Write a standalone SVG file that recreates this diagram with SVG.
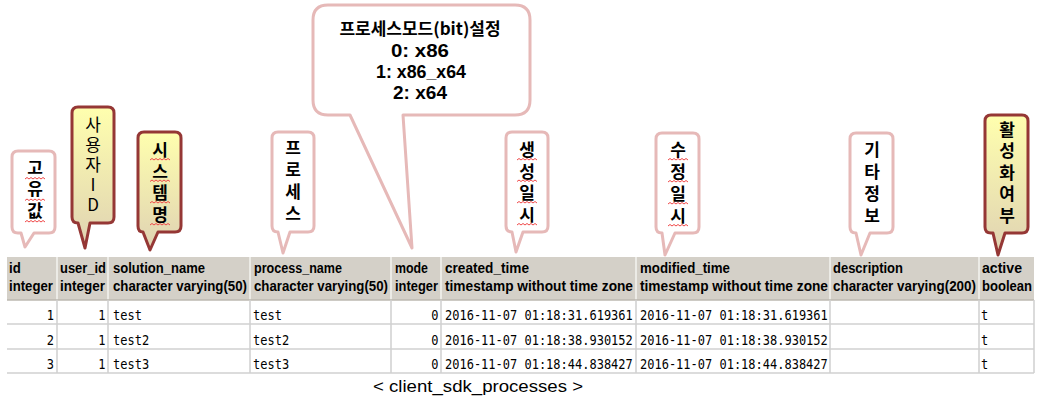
<svg xmlns="http://www.w3.org/2000/svg" xmlns:xlink="http://www.w3.org/1999/xlink" width="1039" height="400" viewBox="0 0 1039 400">
<defs>
<linearGradient id="gold" x1="0" y1="0" x2="0" y2="1">
<stop offset="0" stop-color="#ffffae"/>
<stop offset="1" stop-color="#dfd2b3"/>
</linearGradient>
<path id="sq" d="M-10,0 l2,-1.5 l2,1.5 l2,-1.5 l2,1.5 l2,-1.5 l2,1.5 l2,-1.5 l2,1.5 l2,-1.5 l2,1.5" fill="none" stroke="#f04848" stroke-width="1"/>
<style>
.pink{fill:#ffffff;stroke:#e6b9b8;stroke-width:3;stroke-linejoin:round}
.dark{fill:url(#gold);stroke:#953735;stroke-width:3;stroke-linejoin:round}
.kt{font-family:"Noto Sans CJK KR","Noto Sans",sans-serif;font-size:17px;font-weight:bold;fill:#000;writing-mode:vertical-rl;text-orientation:upright}
.kl{font-weight:normal}
.big{font-family:"Noto Sans CJK KR","Noto Sans",sans-serif;font-size:17px;font-weight:bold;text-anchor:middle;fill:#000}
.bigl{font-family:"Liberation Sans",Arial,sans-serif;font-size:18px;font-weight:bold;text-anchor:middle;fill:#000}
.hd{font-family:"Liberation Sans",Arial,sans-serif;font-size:13.2px;font-weight:bold;fill:#000}
.dt{font-family:"DejaVu Sans Mono","Liberation Mono",monospace;font-size:12px;fill:#000}
.num{text-anchor:end}
.cap{font-family:"Liberation Sans",Arial,sans-serif;font-size:16px;fill:#000}
.hline{stroke:#d0d0d0;stroke-width:1.5}
.vline{stroke:#cfcfcf;stroke-width:1.5}
.hsep{stroke:#f4f4f0;stroke-width:1.5}
</style>
</defs>
<rect width="1039" height="400" fill="#ffffff"/>

<g id="table">
<rect x="7" y="257" width="1027" height="43" fill="#d4d0c8"/>
<g class="hsep">
<line x1="57" y1="257" x2="57" y2="300"/>
<line x1="108" y1="257" x2="108" y2="300"/>
<line x1="250" y1="257" x2="250" y2="300"/>
<line x1="391" y1="257" x2="391" y2="300"/>
<line x1="441" y1="257" x2="441" y2="300"/>
<line x1="636" y1="257" x2="636" y2="300"/>
<line x1="830" y1="257" x2="830" y2="300"/>
<line x1="979" y1="257" x2="979" y2="300"/>
</g>
<line x1="7" y1="300" x2="1034" y2="300" stroke="#bdb9b1" stroke-width="1.5"/>
<g class="vline">
<line x1="57" y1="300" x2="57" y2="373"/>
<line x1="108" y1="300" x2="108" y2="373"/>
<line x1="250" y1="300" x2="250" y2="373"/>
<line x1="391" y1="300" x2="391" y2="373"/>
<line x1="441" y1="300" x2="441" y2="373"/>
<line x1="636" y1="300" x2="636" y2="373"/>
<line x1="830" y1="300" x2="830" y2="373"/>
<line x1="979" y1="300" x2="979" y2="373"/>
<line x1="1034" y1="300" x2="1034" y2="373"/>
</g>
<g class="hline">
<line x1="7" y1="324" x2="1034" y2="324"/>
<line x1="7" y1="349" x2="1034" y2="349"/>
<line x1="7" y1="373" x2="1034" y2="373"/>
</g>
<g class="hd" transform="translate(0,273) scale(1,1.15)">
<text x="9" y="0">id</text>
<text x="60" y="0" textLength="46" lengthAdjust="spacingAndGlyphs">user_id</text>
<text x="113" y="0" textLength="92" lengthAdjust="spacingAndGlyphs">solution_name</text>
<text x="254" y="0" textLength="88" lengthAdjust="spacingAndGlyphs">process_name</text>
<text x="395" y="0" textLength="33" lengthAdjust="spacingAndGlyphs">mode</text>
<text x="445" y="0" textLength="84" lengthAdjust="spacingAndGlyphs">created_time</text>
<text x="640" y="0" textLength="90" lengthAdjust="spacingAndGlyphs">modified_time</text>
<text x="833" y="0" textLength="70" lengthAdjust="spacingAndGlyphs">description</text>
<text x="982" y="0" textLength="40" lengthAdjust="spacingAndGlyphs">active</text>
</g>
<g class="hd" transform="translate(0,291) scale(1,1.15)">
<text x="9" y="0" textLength="44" lengthAdjust="spacingAndGlyphs">integer</text>
<text x="60" y="0" textLength="45" lengthAdjust="spacingAndGlyphs">integer</text>
<text x="113" y="0" textLength="134" lengthAdjust="spacingAndGlyphs">character varying(50)</text>
<text x="254" y="0" textLength="134" lengthAdjust="spacingAndGlyphs">character varying(50)</text>
<text x="395" y="0" textLength="43" lengthAdjust="spacingAndGlyphs">integer</text>
<text x="445" y="0" textLength="188" lengthAdjust="spacingAndGlyphs">timestamp without time zone</text>
<text x="640" y="0" textLength="188" lengthAdjust="spacingAndGlyphs">timestamp without time zone</text>
<text x="833" y="0" textLength="143" lengthAdjust="spacingAndGlyphs">character varying(200)</text>
<text x="982" y="0" textLength="50" lengthAdjust="spacingAndGlyphs">boolean</text>
</g>
<g class="dt" transform="translate(0,320) scale(1,1.2)">
<text class="num" x="54" y="0">1</text>
<text class="num" x="105.5" y="0">1</text>
<text x="113" y="0">test</text>
<text x="253" y="0">test</text>
<text class="num" x="438.5" y="0">0</text>
<text x="445" y="0">2016-11-07 01:18:31.619361</text>
<text x="640" y="0">2016-11-07 01:18:31.619361</text>
<text x="981" y="0">t</text>
</g>
<g class="dt" transform="translate(0,344.5) scale(1,1.2)">
<text class="num" x="54" y="0">2</text>
<text class="num" x="105.5" y="0">1</text>
<text x="113" y="0">test2</text>
<text x="253" y="0">test2</text>
<text class="num" x="438.5" y="0">0</text>
<text x="445" y="0">2016-11-07 01:18:38.930152</text>
<text x="640" y="0">2016-11-07 01:18:38.930152</text>
<text x="981" y="0">t</text>
</g>
<g class="dt" transform="translate(0,369) scale(1,1.2)">
<text class="num" x="54" y="0">3</text>
<text class="num" x="105.5" y="0">1</text>
<text x="113" y="0">test3</text>
<text x="253" y="0">test3</text>
<text class="num" x="438.5" y="0">0</text>
<text x="445" y="0">2016-11-07 01:18:44.838427</text>
<text x="640" y="0">2016-11-07 01:18:44.838427</text>
<text x="981" y="0">t</text>
</g>
<text class="cap" x="373" y="392" textLength="210" lengthAdjust="spacingAndGlyphs">&lt; client_sdk_processes &gt;</text>
</g>

<g id="connectors"></g>

<g id="callout-id">
<path class="pink" d="M18,151 H49 Q55,151 55,157 V227 Q55,233 49,233 H34 L25,247 L21,233 H18 Q12,233 12,227 V157 Q12,151 18,151 Z"/>
<text class="kt" x="35" y="159" style="letter-spacing:4.5px">고유값</text>
<use href="#sq" x="35" y="179"/>
<use href="#sq" x="35" y="200.5"/>
<use href="#sq" x="35" y="222"/>
</g>

<g id="callout-user">
<path class="dark" d="M78,107 H108 Q114,107 114,113 V217 Q114,223 108,223 H90 L85,248 L78,223 Q72,223 72,217 V113 Q72,107 78,107 Z"/>
<text class="kt kl" x="93" y="116" style="letter-spacing:3px">사용자ID</text>
</g>

<g id="callout-solution">
<path class="dark" d="M144,132 H175 Q181,132 181,138 V226 Q181,232 175,232 H158 L150,250 L143,232 Q138,232 138,226 V138 Q138,132 144,132 Z"/>
<text class="kt" x="160" y="141" style="letter-spacing:4.7px">시스템명</text>
<use href="#sq" x="160" y="160"/>
<use href="#sq" x="160" y="181.5"/>
<use href="#sq" x="160" y="203"/>
<use href="#sq" x="160" y="225"/>
</g>

<g id="callout-process">
<path class="pink" d="M278,132 H308 Q314,132 314,138 V226 Q314,232 308,232 H290 L283,253 L278,232 Q272,232 272,226 V138 Q272,132 278,132 Z"/>
<text class="kt" x="293" y="139.5" style="letter-spacing:5px">프로세스</text>
</g>

<g id="callout-mode">
<path class="pink" d="M328,5 H515 Q530,5 530,20 V100 Q530,115 515,115 H403 L412,248 L350,115 H328 Q313,115 313,100 V20 Q313,5 328,5 Z"/>
<text class="big" x="420" y="35">프로세스모드(bit)설정</text>
<text class="bigl" x="420" y="57" textLength="58" lengthAdjust="spacingAndGlyphs">0: x86</text>
<text class="bigl" x="421" y="78" textLength="90" lengthAdjust="spacingAndGlyphs">1: x86_x64</text>
<text class="bigl" x="420" y="99" textLength="54" lengthAdjust="spacingAndGlyphs">2: x64</text>
</g>

<g id="callout-created">
<path class="pink" d="M512,132 H542 Q548,132 548,138 V226 Q548,232 542,232 H523 L516,252 L512,232 Q506,232 506,226 V138 Q506,132 512,132 Z"/>
<text class="kt" x="527" y="141" style="letter-spacing:4.7px">생성일시</text>
<use href="#sq" x="527" y="160"/>
<use href="#sq" x="527" y="181.5"/>
<use href="#sq" x="527" y="203"/>
<use href="#sq" x="527" y="225"/>
</g>

<g id="callout-modified">
<path class="pink" d="M662,133 H693 Q699,133 699,139 V227 Q699,233 693,233 H675 L665,255 L662,233 Q656,233 656,227 V139 Q656,133 662,133 Z"/>
<text class="kt" x="678" y="141" style="letter-spacing:5px">수정일시</text>
<use href="#sq" x="678" y="160"/>
<use href="#sq" x="678" y="182"/>
<use href="#sq" x="678" y="204"/>
<use href="#sq" x="678" y="226"/>
</g>

<g id="callout-description">
<path class="pink" d="M856,133 H887 Q893,133 893,139 V227 Q893,233 887,233 H870 L861,255 L856,233 Q850,233 850,227 V139 Q850,133 856,133 Z"/>
<text class="kt" x="872" y="141" style="letter-spacing:5px">기타정보</text>
</g>

<g id="callout-active">
<path class="dark" d="M991,115 H1022 Q1028,115 1028,121 V227 Q1028,233 1022,233 H1005 L998,255 L993,233 H991 Q985,233 985,227 V121 Q985,115 991,115 Z"/>
<text class="kt" x="1007" y="121" style="letter-spacing:4.5px">활성화여부</text>
</g>
</svg>
